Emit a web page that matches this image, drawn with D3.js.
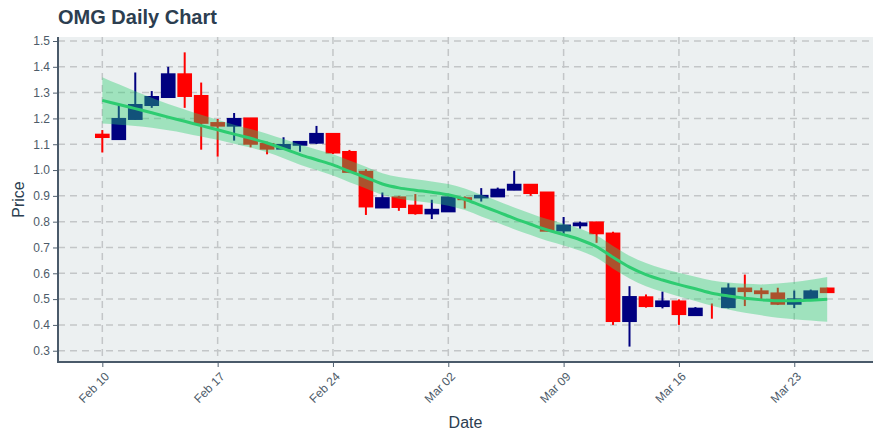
<!DOCTYPE html>
<html>
<head>
<meta charset="utf-8">
<script src="https://cdn.jsdelivr.net/npm/d3@7"></script>
<style>
  html, body { margin: 0; padding: 0; background: #ffffff; }
  svg { display: block; font-family: "Liberation Sans", Arial, Helvetica, sans-serif; }
</style>
</head>
<body>
<svg id="chart" width="880" height="440"></svg>
<script>
const dates = ["2020-02-10","2020-02-11","2020-02-12","2020-02-13","2020-02-14","2020-02-15","2020-02-16",
  "2020-02-17","2020-02-18","2020-02-19","2020-02-20","2020-02-21","2020-02-22","2020-02-23",
  "2020-02-24","2020-02-25","2020-02-26","2020-02-27","2020-02-28","2020-02-29","2020-03-01",
  "2020-03-02","2020-03-03","2020-03-04","2020-03-05","2020-03-06","2020-03-07","2020-03-08",
  "2020-03-09","2020-03-10","2020-03-11","2020-03-12","2020-03-13","2020-03-14","2020-03-15",
  "2020-03-16","2020-03-17","2020-03-18","2020-03-19","2020-03-20","2020-03-21","2020-03-22",
  "2020-03-23","2020-03-24","2020-03-25"];
const open  = [1.137,1.120,1.198,1.252,1.283,1.371,1.287,1.182,1.172,1.200,1.101,1.083,1.098,1.106,
  1.140,1.070,0.993,0.855,0.894,0.862,0.832,0.840,0.891,0.894,0.898,0.924,0.943,0.913,
  0.766,0.786,0.797,0.754,0.415,0.507,0.473,0.491,0.438,0.455,0.469,0.541,0.530,0.522,0.482,0.502,0.541];
const high  = [1.155,1.252,1.378,1.306,1.400,1.456,1.339,1.198,1.221,1.200,1.110,1.127,1.112,1.171,
  1.141,1.078,1.003,0.913,0.900,0.907,0.885,0.897,0.898,0.930,0.932,0.997,0.944,0.914,
  0.818,0.800,0.800,0.761,0.550,0.518,0.529,0.499,0.469,0.483,0.561,0.595,0.544,0.544,0.533,0.537,0.544];
const low   = [1.068,1.118,1.196,1.241,1.283,1.241,1.079,1.052,1.114,1.088,1.061,1.080,1.071,1.101,
  1.062,0.988,0.826,0.855,0.842,0.827,0.810,0.838,0.851,0.878,0.897,0.922,0.900,0.763,
  0.746,0.773,0.718,0.400,0.316,0.467,0.464,0.400,0.437,0.424,0.464,0.473,0.499,0.477,0.465,0.500,0.526];
const close = [1.128,1.198,1.252,1.283,1.371,1.287,1.183,1.172,1.198,1.102,1.083,1.097,1.109,1.140,
  1.068,0.993,0.859,0.891,0.857,0.833,0.846,0.894,0.887,0.900,0.924,0.943,0.911,0.765,
  0.785,0.793,0.755,0.415,0.508,0.473,0.491,0.442,0.463,0.455,0.541,0.531,0.523,0.482,0.499,0.530,0.527];
const trend = [1.270,1.254,1.238,1.222,1.205,1.189,1.172,1.156,1.139,1.123,1.105,1.083,1.060,1.040,
  1.020,0.995,0.971,0.946,0.931,0.922,0.914,0.904,0.887,0.862,0.838,0.813,0.790,0.768,
  0.750,0.730,0.703,0.662,0.624,0.595,0.574,0.556,0.540,0.523,0.512,0.503,0.497,0.494,0.494,0.496,0.499];
const bandUpper = [1.360,1.332,1.305,1.280,1.256,1.235,1.214,1.195,1.176,1.159,1.141,1.120,1.099,1.080,
  1.061,1.037,1.013,0.988,0.973,0.964,0.956,0.946,0.929,0.904,0.880,0.855,0.832,0.810,
  0.792,0.773,0.746,0.706,0.668,0.640,0.619,0.602,0.587,0.572,0.564,0.559,0.557,0.560,0.566,0.575,0.586];
const bandLower = [1.180,1.176,1.171,1.164,1.154,1.143,1.130,1.117,1.102,1.087,1.069,1.046,1.021,1.000,
  0.979,0.953,0.929,0.904,0.889,0.880,0.872,0.862,0.845,0.820,0.796,0.771,0.748,0.726,
  0.708,0.687,0.660,0.618,0.580,0.550,0.529,0.510,0.493,0.474,0.460,0.447,0.437,0.428,0.422,0.417,0.412];
const yTicks = [0.3,0.4,0.5,0.6,0.7,0.8,0.9,1.0,1.1,1.2,1.3,1.4,1.5];
const xTickLabels = ["2020-02-10","2020-02-17","2020-02-24","2020-03-02","2020-03-09","2020-03-16","2020-03-23"];
const xDomain = ["2020-02-07T07:26","2020-03-27T18:43"];
const yDomain = [0.2563, 1.5155];

const parse = d3.utcParse("%Y-%m-%d");
const parseT = d3.utcParse("%Y-%m-%dT%H:%M");
const data = dates.map((d,i) => ({
  date: parse(d), o: open[i], h: high[i], l: low[i], c: close[i],
  m: trend[i], up: bandUpper[i], lo: bandLower[i]
}));

const svg = d3.select("#chart");
const L = 58, R = 873, T = 37, B = 362;
const x = d3.scaleUtc().domain(xDomain.map(parseT)).range([L, R]);
const y = d3.scaleLinear().domain(yDomain).range([B, T]);

const textColor = "#2c3e50";
const tickColor = "#4d5b69";
const inc = "#000080", dec = "#ff0000";

// plot background
svg.append("rect").attr("x", L).attr("y", T).attr("width", R - L).attr("height", B - T)
  .attr("fill", "#ecf0f1");

// grid
const grid = svg.append("g").attr("stroke", "#c3c6c8").attr("stroke-width", 1.5)
  .attr("stroke-dasharray", "7,5");
yTicks.forEach(t => {
  grid.append("line").attr("x1", L).attr("x2", R).attr("y1", y(t)).attr("y2", y(t));
});
xTickLabels.forEach(t => {
  const d = parse(t);
  grid.append("line").attr("x1", x(d)).attr("x2", x(d)).attr("y1", T).attr("y2", B);
});

// candles
const dayW = x(parse("2020-02-11")) - x(parse("2020-02-10"));
const bodyW = dayW * 0.89;
const cg = svg.append("g");
data.forEach(d => {
  const col = d.c > d.o ? inc : dec;
  const cx = x(d.date);
  cg.append("line").attr("x1", cx).attr("x2", cx).attr("y1", y(d.h)).attr("y2", y(d.l))
    .attr("stroke", col).attr("stroke-width", 2);
  if (d.o !== d.c) {
    const y0 = Math.min(y(d.o), y(d.c)), y1 = Math.max(y(d.o), y(d.c));
    cg.append("rect").attr("x", cx - bodyW / 2).attr("width", bodyW)
      .attr("y", y0 - 1).attr("height", y1 - y0 + 2).attr("fill", col);
  }
});

// band
const area = d3.area().x(d => x(d.date)).y0(d => y(d.lo)).y1(d => y(d.up)).curve(d3.curveMonotoneX);
svg.append("path").datum(data).attr("d", area).attr("fill", "rgba(46,204,113,0.4)");

// trend line
const line = d3.line().x(d => x(d.date)).y(d => y(d.m)).curve(d3.curveMonotoneX);
svg.append("path").datum(data).attr("d", line).attr("fill", "none")
  .attr("stroke", "#2ecc71").attr("stroke-width", 3);

// axes
const yAxis = d3.axisLeft(y).tickValues(yTicks).tickFormat(d3.format(".1f")).tickSize(5).tickPadding(3);
const yg = svg.append("g").attr("transform", `translate(${L},0)`).call(yAxis);
yg.select(".domain").remove();
yg.selectAll(".tick line").attr("stroke", "#506070").attr("stroke-width", 1);
yg.selectAll("text").attr("fill", tickColor).style("font-size", "12px")
  .style("font-family", "'Liberation Sans', Arial, sans-serif");

const xAxis = d3.axisBottom(x).tickValues(xTickLabels.map(parse)).tickFormat(d3.utcFormat("%b %d")).tickSize(5);
const xg = svg.append("g").attr("transform", `translate(0,${B})`).call(xAxis);
xg.select(".domain").remove();
xg.selectAll(".tick line").attr("stroke", "#506070").attr("stroke-width", 1);
xg.selectAll("text").attr("fill", tickColor).style("font-size", "12px")
  .style("font-family", "'Liberation Sans', Arial, sans-serif")
  .attr("text-anchor", "end").attr("dy", null).attr("y", null)
  .attr("transform", "translate(5,13) rotate(-45)").attr("dominant-baseline", "middle");

// axis lines
svg.append("line").attr("x1", L).attr("x2", L).attr("y1", T).attr("y2", B + 1)
  .attr("stroke", "#4a5a6a").attr("stroke-width", 2);
svg.append("line").attr("x1", L - 1).attr("x2", R).attr("y1", B).attr("y2", B)
  .attr("stroke", "#4a5a6a").attr("stroke-width", 2);

// titles
svg.append("text").attr("x", 58).attr("y", 23.5).text("OMG Daily Chart")
  .attr("fill", textColor).style("font-size", "20px").style("font-weight", "bold");
svg.append("text").attr("x", (L + R) / 2).attr("y", 428).attr("text-anchor", "middle")
  .text("Date").attr("fill", textColor).style("font-size", "16px");
svg.append("text").attr("transform", `translate(23.5,${(T + B) / 2}) rotate(-90)`)
  .attr("text-anchor", "middle").text("Price").attr("fill", textColor).style("font-size", "16px");
</script>
</body>
</html>
